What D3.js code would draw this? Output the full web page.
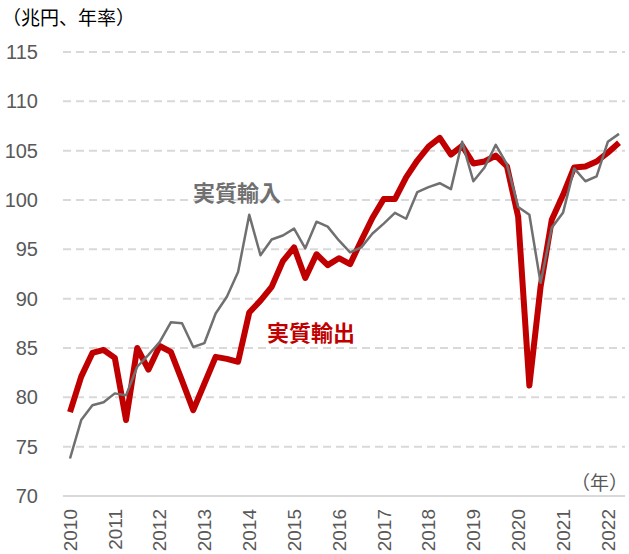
<!DOCTYPE html>
<html>
<head>
<meta charset="utf-8">
<script src="https://cdn.jsdelivr.net/npm/d3@7"></script>
<style>
    body { margin: 0; background: #fff; }
    text { font-family: "Liberation Sans", Arial, "Noto Sans CJK JP", sans-serif; }
    .jp { font-family: "Noto Sans CJK JP", sans-serif; }
</style>
</head>
<body>
<script>
//quarterly data, 2010Q1 - 2022Q2 (兆円、年率)
var years = [2010, 2011, 2012, 2013, 2014, 2015, 2016, 2017, 2018, 2019, 2020, 2021, 2022];
var yTicks = [70, 75, 80, 85, 90, 95, 100, 105, 110, 115];

var exports = [78.5, 82.1, 84.5, 84.8, 84.0, 77.7, 85.0, 82.8, 85.2, 84.6,
    81.7, 78.7, 81.4, 84.1, 83.9, 83.6, 88.6, 89.8, 91.2, 93.8,
    95.2, 92.1, 94.5, 93.4, 94.1, 93.5, 95.9, 98.2, 100.1, 100.1,
    102.3, 104.0, 105.4, 106.3, 104.6, 105.5, 103.7, 103.9, 104.5, 103.4,
    98.3, 81.2, 91.2, 98.0, 100.5, 103.3, 103.4, 103.9, 104.8, 105.8];

var imports = [73.8, 77.7, 79.2, 79.5, 80.4, 80.2, 83.1, 84.3, 85.6, 87.6,
    87.5, 85.1, 85.5, 88.5, 90.2, 92.7, 98.5, 94.4, 96.0, 96.4,
    97.1, 95.1, 97.8, 97.3, 95.9, 94.7, 95.2, 96.6, 97.6, 98.7,
    98.1, 100.8, 101.3, 101.7, 101.1, 105.9, 101.9, 103.3, 105.6, 103.6,
    99.3, 98.5, 91.6, 97.2, 98.7, 103.2, 101.9, 102.4, 105.9, 106.7];

var width = 629,
    height = 554;

var svg = d3.select("body")
    .append("svg")
    .attr("width", width)
    .attr("height", height);

//x is the quarter index, y the value
var x = d3.scaleLinear()
    .domain([0, exports.length - 1])
    .range([70, 619]);

var y = d3.scaleLinear()
    .domain([70, 115])
    .range([496, 52]);

//gridlines
svg.selectAll(".grid")
    .data(yTicks)
    .enter()
    .append("line")
    .attr("x1", 63)
    .attr("x2", 625)
    .attr("y1", function(d){ return y(d); })
    .attr("y2", function(d){ return y(d); })
    .attr("stroke", "#d9d9d9")
    .attr("stroke-width", 2)
    .attr("stroke-dasharray", function(d){ return d == 70 ? null : "8,5"; });

//y axis labels
var yAxis = d3.axisLeft(y).tickValues(yTicks).tickSize(0).tickPadding(0);
var gy = svg.append("g")
    .attr("transform", "translate(38,0)")
    .call(yAxis);
gy.select(".domain").remove();
gy.selectAll("text")
    .attr("fill", "#595959")
    .style("font-size", "20px");

//x axis labels, one per year at Q1
svg.selectAll(".xlab")
    .data(years)
    .enter()
    .append("text")
    .attr("transform", function(d){
        return "translate(" + x((d - 2010) * 4) + ",509) rotate(-90)";
    })
    .attr("text-anchor", "end")
    .attr("dy", "0.36em")
    .attr("fill", "#595959")
    .style("font-size", "19px")
    .text(function(d){ return d; });

var line = d3.line()
    .x(function(d, i){ return x(i); })
    .y(function(d){ return y(d); });

//exports first, imports drawn on top
svg.append("path")
    .datum(exports)
    .attr("d", line)
    .attr("fill", "none")
    .attr("stroke", "#c00000")
    .attr("stroke-width", 6)
    .attr("stroke-linejoin", "round");

svg.append("path")
    .datum(imports)
    .attr("d", line)
    .attr("fill", "none")
    .attr("stroke", "#707070")
    .attr("stroke-width", 2.5)
    .attr("stroke-linejoin", "round");

//labels
svg.append("text")
    .attr("class", "jp")
    .attr("x", 2)
    .attr("y", 25)
    .attr("fill", "#000")
    .style("font-size", "19px")
    .text("（兆円、年率）");

svg.append("text")
    .attr("class", "jp")
    .attr("x", 628)
    .attr("y", 490)
    .attr("text-anchor", "end")
    .attr("fill", "#595959")
    .style("font-size", "19px")
    .text("（年）");

svg.append("text")
    .attr("class", "jp")
    .attr("x", 193)
    .attr("y", 201)
    .attr("fill", "#707070")
    .style("font-size", "22px")
    .style("font-weight", "bold")
    .text("実質輸入");

svg.append("text")
    .attr("class", "jp")
    .attr("x", 267)
    .attr("y", 341)
    .attr("fill", "#c00000")
    .style("font-size", "22px")
    .style("font-weight", "bold")
    .text("実質輸出");
</script>
</body>
</html>
